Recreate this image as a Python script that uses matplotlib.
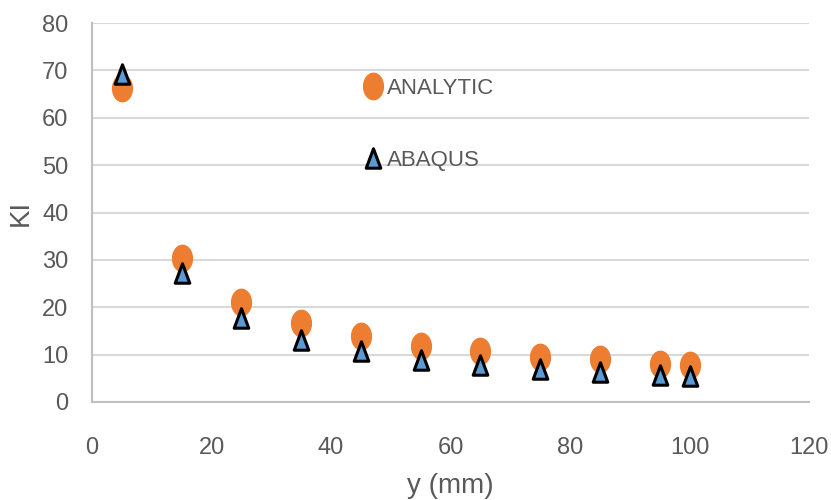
import numpy as np
import matplotlib
matplotlib.use("Agg")
import matplotlib.pyplot as plt
from matplotlib.path import Path

# data
y_mm = [5, 15, 25, 35, 45, 55, 65, 75, 85, 95, 100]
ki_analytic = [66.3, 30.5, 21.2, 16.7, 14.0, 11.9, 10.8, 9.6, 9.0, 8.0, 7.8]
ki_abaqus = [69.3, 27.3, 17.8, 13.1, 10.8, 8.9, 7.8, 6.9, 6.4, 5.7, 5.4]
x_ticks = [0, 20, 40, 60, 80, 100, 120]
y_ticks = [0, 10, 20, 30, 40, 50, 60, 70, 80]

plt.rcParams['font.family'] = ['Liberation Sans', 'DejaVu Sans']
txt_col = '#595959'

# the original is squeezed sideways, so markers are taller than wide
t = np.linspace(0, 2 * np.pi, 60)
oval = Path(np.column_stack([0.75 * np.cos(t), np.sin(t)]), closed=True)
tri = Path([(0, 1), (-0.75, -1), (0.75, -1), (0, 1)], closed=True)

fig = plt.figure(figsize=(8.31, 5), dpi=100)
ax = fig.add_axes([92 / 831, 98 / 500, 717 / 831, 379 / 500])

ax.plot(y_mm, ki_analytic, linestyle='none', marker=oval, ms=19,
        color='#ed7d31', mec='#ed7d31', label='ANALYTIC', zorder=3)
ax.plot(y_mm, ki_abaqus, linestyle='none', marker=tri, ms=14,
        color='#5b9bd5', mec='black', mew=2.2, label='ABAQUS', zorder=4)

ax.set_xlim(0, 120)
ax.set_ylim(0, 80)
ax.set_xticks(x_ticks)
ax.set_yticks(y_ticks)
ax.grid(axis='y', color='#d9d9d9', lw=1.5)
ax.set_axisbelow(True)
for s in ['top', 'right']:
    ax.spines[s].set_visible(False)
for s in ['left', 'bottom']:
    ax.spines[s].set_color('#bfbfbf')
    ax.spines[s].set_linewidth(1.5)
ax.tick_params(axis='both', length=0, labelsize=17, labelcolor=txt_col)
ax.tick_params(axis='x', pad=25)
ax.tick_params(axis='y', pad=17)

ax.set_xlabel('y (mm)', fontsize=20, color=txt_col, labelpad=10)
ax.set_ylabel('KI', fontsize=20, color=txt_col, labelpad=6)

ax.legend(loc='upper left', bbox_to_anchor=(0.355, 0.908), frameon=False,
          fontsize=16, labelcolor=txt_col, labelspacing=2.3,
          handlelength=0.6, handletextpad=0.3)

fig.savefig('out.png', dpi=100)
